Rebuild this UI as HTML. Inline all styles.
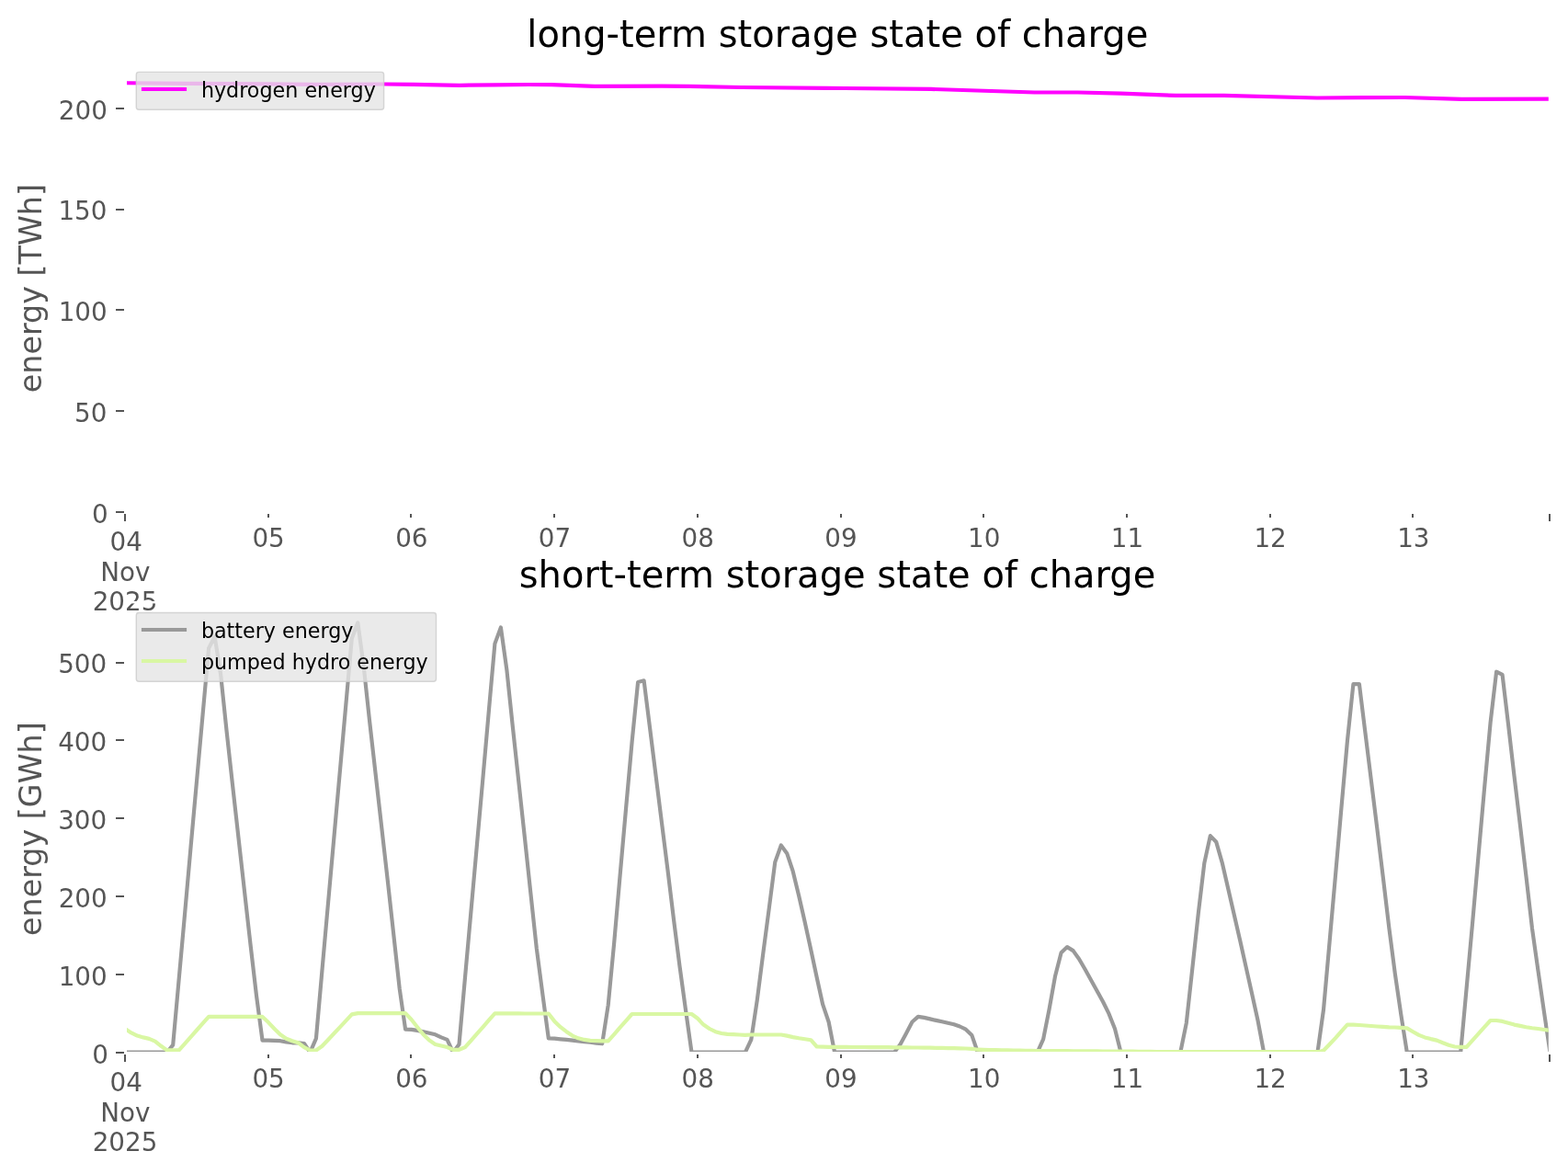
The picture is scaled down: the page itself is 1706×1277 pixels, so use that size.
<!DOCTYPE html>
<html lang="en"><head><meta charset="utf-8"><title>storage state of charge</title>
<style>html,body{margin:0;padding:0;background:#fff;overflow:hidden;width:1706px;height:1277px;}svg{display:block;}text{font-family:"DejaVu Sans","Liberation Sans",sans-serif;}</style>
</head><body>
<svg width="1706" height="1277" viewBox="0 0 1706 1277">
<rect width="1706" height="1277" fill="#ffffff"/>
<defs><clipPath id="c1"><rect x="138" y="60" width="1546.8" height="498"/></clipPath><clipPath id="c2"><rect x="138" y="650" width="1546.8" height="494"/></clipPath></defs>
<text x="911.3" y="51" font-size="40" fill="#000" text-anchor="middle">long-term storage state of charge</text>
<text transform="translate(44.6,313.6) rotate(-90)" font-size="33.33" fill="#555555" text-anchor="middle">energy [TWh]</text>
<rect x="126" y="556" width="9" height="2" fill="#555555"/>
<text x="117.7" y="569.1" font-size="27.78" fill="#555555" text-anchor="end">0</text>
<rect x="126" y="446" width="9" height="2" fill="#555555"/>
<text x="116.4" y="458.7" font-size="27.78" fill="#555555" text-anchor="end">50</text>
<rect x="126" y="336" width="9" height="2" fill="#555555"/>
<text x="116.7" y="348.7" font-size="27.78" fill="#555555" text-anchor="end">100</text>
<rect x="126" y="227" width="9" height="2" fill="#555555"/>
<text x="116.45" y="238.8" font-size="27.78" fill="#555555" text-anchor="end">150</text>
<rect x="126" y="117" width="9" height="2" fill="#555555"/>
<text x="116.8" y="129.9" font-size="27.78" fill="#555555" text-anchor="end">200</text>
<rect x="135" y="559" width="2" height="8" fill="#555555"/>
<text x="137.2" y="598.8" font-size="27.78" fill="#555555" text-anchor="middle">04</text>
<text x="136.4" y="631.6" font-size="27.78" fill="#555555" text-anchor="middle">Nov</text>
<text x="136.0" y="663.9" font-size="27.78" fill="#555555" text-anchor="middle">2025</text>
<rect x="291" y="559" width="2" height="4" fill="#555555"/>
<text x="292.1" y="595.2" font-size="27.78" fill="#555555" text-anchor="middle">05</text>
<rect x="446" y="559" width="2" height="4" fill="#555555"/>
<text x="447.8" y="595.2" font-size="27.78" fill="#555555" text-anchor="middle">06</text>
<rect x="602" y="559" width="2" height="4" fill="#555555"/>
<text x="603.5" y="595.2" font-size="27.78" fill="#555555" text-anchor="middle">07</text>
<rect x="758" y="559" width="2" height="4" fill="#555555"/>
<text x="759.2" y="595.2" font-size="27.78" fill="#555555" text-anchor="middle">08</text>
<rect x="914" y="559" width="2" height="4" fill="#555555"/>
<text x="915.0" y="595.2" font-size="27.78" fill="#555555" text-anchor="middle">09</text>
<rect x="1069" y="559" width="2" height="4" fill="#555555"/>
<text x="1070.7" y="595.2" font-size="27.78" fill="#555555" text-anchor="middle">10</text>
<rect x="1225" y="559" width="2" height="4" fill="#555555"/>
<text x="1226.4" y="595.2" font-size="27.78" fill="#555555" text-anchor="middle">11</text>
<rect x="1381" y="559" width="2" height="4" fill="#555555"/>
<text x="1382.1" y="595.2" font-size="27.78" fill="#555555" text-anchor="middle">12</text>
<rect x="1536" y="559" width="2" height="4" fill="#555555"/>
<text x="1537.8" y="595.2" font-size="27.78" fill="#555555" text-anchor="middle">13</text>
<rect x="1685" y="559" width="2" height="8" fill="#555555"/>
<g clip-path="url(#c1)"><polyline points="136.3,90.2 205.0,90.8 290.0,91.4 343.0,91.8 418.8,91.5 450.0,91.8 500.0,92.8 538.0,92.3 575.0,92.0 600.0,92.2 647.0,93.9 720.0,93.7 750.0,93.9 807.0,95.0 900.0,95.8 919.0,96.0 1013.0,96.9 1125.5,100.5 1172.5,100.5 1219.4,101.6 1279.0,103.9 1331.5,103.9 1433.0,106.5 1482.0,106.1 1528.6,106.0 1590.5,107.9 1687.0,107.6" fill="none" stroke="#ff00ff" stroke-width="4.17" stroke-linejoin="round" stroke-linecap="square"/></g>
<rect x="148.3" y="78.4" width="269.3" height="40.8" rx="2.8" ry="2.8" fill="#e5e5e5" fill-opacity="0.8" stroke="#cccccc" stroke-opacity="0.8" stroke-width="1.39"/>
<line x1="156" y1="96.96" x2="201" y2="96.96" stroke="#ff00ff" stroke-width="4.17" stroke-linecap="square"/>
<text x="218.9" y="105.8" font-size="22.22" fill="#000">hydrogen energy</text>
<rect x="135" y="653.9" width="1553" height="2.5" fill="#ffffff"/>
<text x="911" y="639" font-size="40" fill="#000" text-anchor="middle">short-term storage state of charge</text>
<text transform="translate(44.6,901.6) rotate(-90)" font-size="33.33" fill="#555555" text-anchor="middle">energy [GWh]</text>
<rect x="126" y="1144" width="9" height="2" fill="#555555"/>
<text x="117.9" y="1156.6" font-size="27.78" fill="#555555" text-anchor="end">0</text>
<rect x="126" y="1059" width="9" height="2" fill="#555555"/>
<text x="116.7" y="1071.6" font-size="27.78" fill="#555555" text-anchor="end">100</text>
<rect x="126" y="974" width="9" height="2" fill="#555555"/>
<text x="116.7" y="986.5" font-size="27.78" fill="#555555" text-anchor="end">200</text>
<rect x="126" y="889" width="9" height="2" fill="#555555"/>
<text x="116.2" y="901.5" font-size="27.78" fill="#555555" text-anchor="end">300</text>
<rect x="126" y="804" width="9" height="2" fill="#555555"/>
<text x="116.2" y="816.8" font-size="27.78" fill="#555555" text-anchor="end">400</text>
<rect x="126" y="720" width="9" height="2" fill="#555555"/>
<text x="116.2" y="731.8" font-size="27.78" fill="#555555" text-anchor="end">500</text>
<rect x="135" y="1147" width="2" height="8" fill="#555555"/>
<text x="137.2" y="1186.8" font-size="27.78" fill="#555555" text-anchor="middle">04</text>
<text x="136.4" y="1219.6" font-size="27.78" fill="#555555" text-anchor="middle">Nov</text>
<text x="136.0" y="1251.9" font-size="27.78" fill="#555555" text-anchor="middle">2025</text>
<rect x="291" y="1147" width="2" height="4" fill="#555555"/>
<text x="292.1" y="1183.2" font-size="27.78" fill="#555555" text-anchor="middle">05</text>
<rect x="446" y="1147" width="2" height="4" fill="#555555"/>
<text x="447.8" y="1183.2" font-size="27.78" fill="#555555" text-anchor="middle">06</text>
<rect x="602" y="1147" width="2" height="4" fill="#555555"/>
<text x="603.5" y="1183.2" font-size="27.78" fill="#555555" text-anchor="middle">07</text>
<rect x="758" y="1147" width="2" height="4" fill="#555555"/>
<text x="759.2" y="1183.2" font-size="27.78" fill="#555555" text-anchor="middle">08</text>
<rect x="914" y="1147" width="2" height="4" fill="#555555"/>
<text x="915.0" y="1183.2" font-size="27.78" fill="#555555" text-anchor="middle">09</text>
<rect x="1069" y="1147" width="2" height="4" fill="#555555"/>
<text x="1070.7" y="1183.2" font-size="27.78" fill="#555555" text-anchor="middle">10</text>
<rect x="1225" y="1147" width="2" height="4" fill="#555555"/>
<text x="1226.4" y="1183.2" font-size="27.78" fill="#555555" text-anchor="middle">11</text>
<rect x="1381" y="1147" width="2" height="4" fill="#555555"/>
<text x="1382.1" y="1183.2" font-size="27.78" fill="#555555" text-anchor="middle">12</text>
<rect x="1536" y="1147" width="2" height="4" fill="#555555"/>
<text x="1537.8" y="1183.2" font-size="27.78" fill="#555555" text-anchor="middle">13</text>
<rect x="1685" y="1147" width="2" height="8" fill="#555555"/>
<g clip-path="url(#c2)">
<polyline points="136.3,1144.7 142.8,1144.7 149.3,1144.7 155.8,1144.7 162.2,1144.7 168.7,1144.7 175.2,1144.7 181.7,1144.7 188.2,1136.6 194.7,1064.7 201.2,992.8 207.6,920.8 214.1,848.9 220.6,777.0 227.1,705.1 233.6,692.5 240.1,733.3 246.6,795.5 253.0,853.5 259.5,911.4 266.0,969.4 272.5,1027.3 279.0,1083.0 285.5,1131.6 292.0,1131.6 298.5,1131.8 304.9,1132.2 311.4,1133.4 317.9,1134.3 324.4,1134.3 330.9,1135.0 337.4,1144.7 343.9,1129.7 350.3,1057.2 356.8,984.6 363.3,912.0 369.8,839.5 376.3,767.0 382.8,694.4 389.3,677.3 395.7,724.9 402.2,785.3 408.7,842.5 415.2,899.7 421.7,956.9 428.2,1016.0 434.7,1075.2 441.1,1119.7 447.6,1119.9 454.1,1120.9 460.6,1122.2 467.1,1123.8 473.6,1125.3 480.1,1128.4 486.5,1130.9 493.0,1144.7 499.5,1136.0 506.0,1063.3 512.5,990.7 519.0,918.0 525.5,845.4 531.9,772.7 538.4,700.1 544.9,682.5 551.4,728.9 557.9,791.0 564.4,851.0 570.9,911.0 577.3,971.0 583.8,1031.5 590.3,1081.0 596.8,1129.4 603.3,1129.7 609.8,1130.3 616.3,1130.9 622.8,1131.6 629.2,1132.4 635.7,1133.1 642.2,1133.8 648.7,1134.6 655.2,1135.3 661.7,1093.3 668.2,1025.4 674.6,952.2 681.1,879.0 687.6,807.0 694.1,742.0 700.6,740.3 707.1,792.0 713.6,844.0 720.0,895.0 726.5,946.4 733.0,1000.0 739.5,1051.0 746.0,1098.4 752.5,1144.7 759.0,1144.7 765.4,1144.7 771.9,1144.7 778.4,1144.7 784.9,1144.7 791.4,1144.7 797.9,1144.7 804.4,1144.7 810.8,1144.7 817.3,1130.9 823.8,1087.7 830.3,1037.0 836.8,987.8 843.3,937.6 849.8,919.5 856.2,928.2 862.7,947.7 869.2,974.6 875.7,1003.0 882.2,1032.8 888.7,1063.3 895.2,1092.7 901.6,1111.5 908.1,1144.7 914.6,1144.7 921.1,1144.7 927.6,1144.7 934.1,1144.7 940.6,1144.7 947.0,1144.7 953.5,1144.7 960.0,1144.7 966.5,1144.7 973.0,1144.7 979.5,1135.9 986.0,1124.0 992.5,1111.5 998.9,1105.9 1005.4,1106.9 1011.9,1108.4 1018.4,1109.9 1024.9,1111.3 1031.4,1112.8 1037.9,1114.3 1044.3,1116.5 1050.8,1119.7 1057.3,1125.9 1063.8,1144.7 1070.3,1144.7 1076.8,1144.7 1083.3,1144.7 1089.7,1144.7 1096.2,1144.7 1102.7,1144.7 1109.2,1144.7 1115.7,1144.7 1122.2,1144.7 1128.7,1144.7 1135.1,1130.3 1141.6,1097.7 1148.1,1061.4 1154.6,1036.3 1161.1,1030.1 1167.6,1034.1 1174.1,1043.2 1180.5,1054.3 1187.0,1066.0 1193.5,1077.7 1200.0,1089.5 1206.5,1102.7 1213.0,1119.0 1219.5,1144.7 1225.9,1144.7 1232.4,1144.7 1238.9,1144.7 1245.4,1144.7 1251.9,1144.7 1258.4,1144.7 1264.9,1144.7 1271.3,1144.7 1277.8,1144.7 1284.3,1144.7 1290.8,1112.8 1297.3,1053.6 1303.8,993.5 1310.3,938.9 1316.8,909.1 1323.2,915.7 1329.7,938.3 1336.2,966.5 1342.7,994.8 1349.2,1023.0 1355.7,1052.1 1362.2,1081.2 1368.6,1110.3 1375.1,1144.7 1381.6,1144.7 1388.1,1144.7 1394.6,1144.7 1401.1,1144.7 1407.6,1144.7 1414.0,1144.7 1420.5,1144.7 1427.0,1144.7 1433.5,1144.7 1440.0,1098.4 1446.5,1025.5 1453.0,952.3 1459.4,879.1 1465.9,806.3 1472.4,744.1 1478.9,744.1 1485.4,796.8 1491.9,849.3 1498.4,901.8 1504.8,954.3 1511.3,1009.0 1517.8,1059.0 1524.3,1103.5 1530.8,1144.7 1537.3,1144.7 1543.8,1144.7 1550.2,1144.7 1556.7,1144.7 1563.2,1144.7 1569.7,1144.7 1576.2,1144.7 1582.7,1144.7 1589.2,1144.7 1595.6,1075.0 1602.1,1003.8 1608.6,930.0 1615.1,856.9 1621.6,786.0 1628.1,730.7 1634.6,733.9 1641.1,788.5 1647.5,844.0 1654.0,898.3 1660.5,953.6 1667.0,1010.0 1673.5,1056.0 1680.0,1101.0 1686.5,1144.7" fill="none" stroke="#999999" stroke-width="4.17" stroke-linejoin="round" stroke-linecap="square"/>
<polyline points="136.3,1119.2 142.8,1123.4 149.3,1126.6 155.8,1128.4 162.2,1129.9 168.7,1132.6 175.2,1137.8 181.7,1142.4 188.2,1142.4 194.7,1142.4 201.2,1135.1 207.6,1127.8 214.1,1120.5 220.6,1113.2 227.1,1105.9 233.6,1105.9 240.1,1105.9 246.6,1105.9 253.0,1105.9 259.5,1105.9 266.0,1105.9 272.5,1105.9 279.0,1105.9 285.5,1105.9 292.0,1112.1 298.5,1119.0 304.9,1125.3 311.4,1129.7 317.9,1132.2 324.4,1134.3 330.9,1139.1 337.4,1142.5 343.9,1142.5 350.3,1138.0 356.8,1131.2 363.3,1124.3 369.8,1117.3 376.3,1110.4 382.8,1103.4 389.3,1102.1 395.7,1102.1 402.2,1102.1 408.7,1102.1 415.2,1102.1 421.7,1102.1 428.2,1102.1 434.7,1102.1 441.1,1102.1 447.6,1109.0 454.1,1117.2 460.6,1125.3 467.1,1131.6 473.6,1135.9 480.1,1137.5 486.5,1139.1 493.0,1141.8 499.5,1141.8 506.0,1139.1 512.5,1131.8 519.0,1124.4 525.5,1117.1 531.9,1109.7 538.4,1102.4 544.9,1102.4 551.4,1102.4 557.9,1102.4 564.4,1102.4 570.9,1102.5 577.3,1102.5 583.8,1102.5 590.3,1102.5 596.8,1102.5 603.3,1110.9 609.8,1117.2 616.3,1122.2 622.8,1126.6 629.2,1129.3 635.7,1130.9 642.2,1131.9 648.7,1132.2 655.2,1132.4 661.7,1132.4 668.2,1125.1 674.6,1117.7 681.1,1110.3 687.6,1103.0 694.1,1103.0 700.6,1103.0 707.1,1103.0 713.6,1103.0 720.0,1103.0 726.5,1103.0 733.0,1103.0 739.5,1103.0 746.0,1103.0 752.5,1103.0 759.0,1107.8 765.4,1114.6 771.9,1119.0 778.4,1122.2 784.9,1124.0 791.4,1124.9 797.9,1125.2 804.4,1125.5 810.8,1125.8 817.3,1125.5 823.8,1125.5 830.3,1125.5 836.8,1125.5 843.3,1125.5 849.8,1125.5 856.2,1126.6 862.7,1128.1 869.2,1129.3 875.7,1130.3 882.2,1131.2 888.7,1138.5 895.2,1138.7 901.6,1138.8 908.1,1138.8 914.6,1138.8 921.1,1138.9 927.6,1139.0 934.1,1139.0 940.6,1139.0 947.0,1139.1 953.5,1139.1 960.0,1139.2 966.5,1139.2 973.0,1139.3 979.5,1139.3 986.0,1139.4 992.5,1139.5 998.9,1139.5 1005.4,1139.6 1011.9,1139.7 1018.4,1139.8 1024.9,1139.9 1031.4,1140.1 1037.9,1140.2 1044.3,1140.3 1050.8,1140.5 1057.3,1140.8 1063.8,1141.7 1070.3,1141.9 1076.8,1142.0 1083.3,1142.1 1089.7,1142.3 1096.2,1142.4 1102.7,1142.5 1109.2,1142.6 1115.7,1142.8 1122.2,1142.9 1128.7,1143.0 1135.1,1143.0 1141.6,1143.1 1148.1,1143.1 1154.6,1143.2 1161.1,1143.2 1167.6,1143.3 1174.1,1143.3 1180.5,1143.3 1187.0,1143.4 1193.5,1143.4 1200.0,1143.5 1206.5,1143.5 1213.0,1143.6 1219.5,1143.6 1225.9,1143.7 1232.4,1143.7 1238.9,1143.8 1245.4,1143.8 1251.9,1143.9 1258.4,1144.0 1264.9,1144.0 1271.3,1144.1 1277.8,1144.1 1284.3,1144.2 1290.8,1144.2 1297.3,1144.2 1303.8,1144.2 1310.3,1144.2 1316.8,1144.2 1323.2,1144.2 1329.7,1144.2 1336.2,1144.2 1342.7,1144.2 1349.2,1144.2 1355.7,1144.2 1362.2,1144.2 1368.6,1144.2 1375.1,1144.2 1381.6,1144.2 1388.1,1144.2 1394.6,1144.2 1401.1,1144.2 1407.6,1144.2 1414.0,1144.2 1420.5,1144.2 1427.0,1144.2 1433.5,1144.2 1440.0,1142.8 1446.5,1136.0 1453.0,1129.1 1459.4,1121.8 1465.9,1114.6 1472.4,1114.6 1478.9,1115.0 1485.4,1115.5 1491.9,1116.0 1498.4,1116.5 1504.8,1116.9 1511.3,1117.3 1517.8,1117.5 1524.3,1117.8 1530.8,1118.4 1537.3,1122.2 1543.8,1125.9 1550.2,1128.4 1556.7,1130.1 1563.2,1131.6 1569.7,1134.3 1576.2,1136.8 1582.7,1138.5 1589.2,1138.8 1595.6,1138.8 1602.1,1131.6 1608.6,1124.4 1615.1,1117.2 1621.6,1110.0 1628.1,1110.0 1634.6,1110.9 1641.1,1112.8 1647.5,1114.6 1654.0,1115.9 1660.5,1117.2 1667.0,1118.2 1673.5,1119.0 1680.0,1120.0 1686.5,1120.9" fill="none" stroke="#d9f7a3" stroke-width="4.17" stroke-linejoin="round" stroke-linecap="square"/>
</g>
<rect x="148.3" y="666.5" width="326.2" height="74.8" rx="2.8" ry="2.8" fill="#e5e5e5" fill-opacity="0.8" stroke="#cccccc" stroke-opacity="0.8" stroke-width="1.39"/>
<line x1="156" y1="685" x2="201" y2="685" stroke="#999999" stroke-width="4.17" stroke-linecap="square"/>
<text x="218.9" y="693.8" font-size="22.22" fill="#000">battery energy</text>
<line x1="156" y1="719" x2="201" y2="719" stroke="#d9f7a3" stroke-width="4.17" stroke-linecap="square"/>
<text x="218.9" y="727.9" font-size="22.22" fill="#000">pumped hydro energy</text>
</svg></body></html>
